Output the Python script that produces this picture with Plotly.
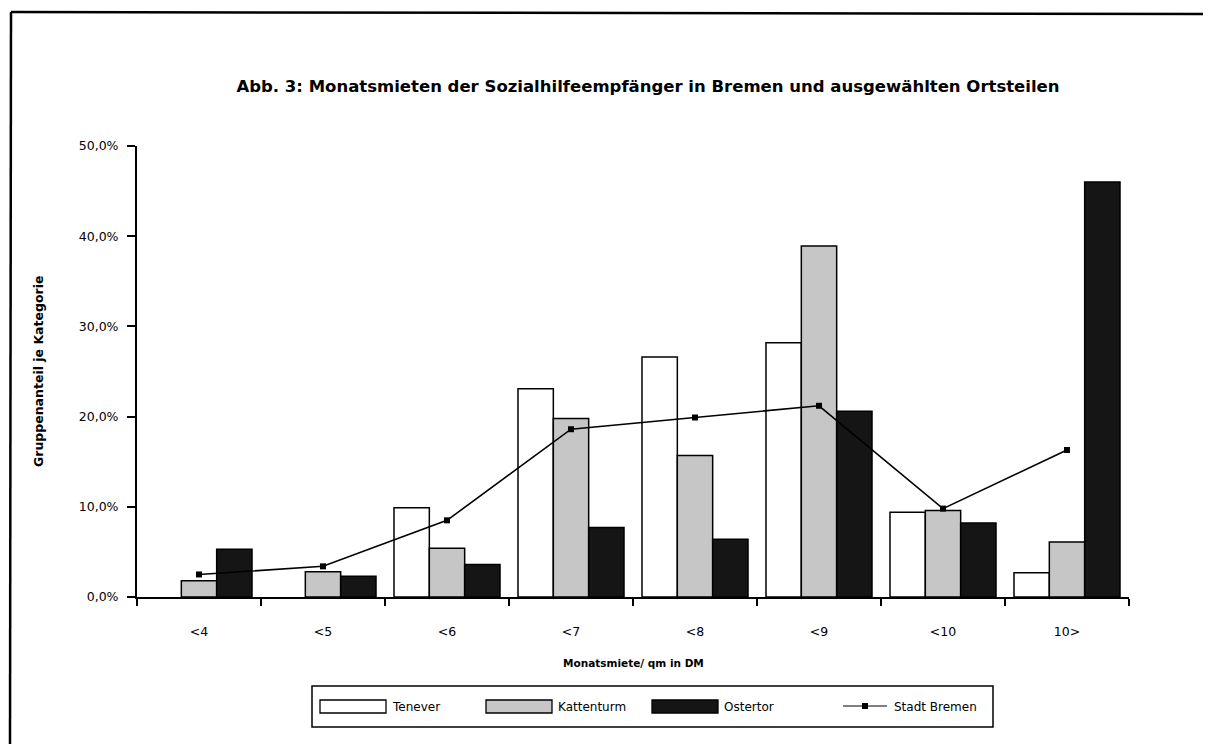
import plotly.graph_objects as go

categories = ["<4", "<5", "<6", "<7", "<8", "<9", "<10", "10>"]
tenever = [None, None, 9.9, 23.1, 26.6, 28.2, 9.4, 2.7]
kattenturm = [1.8, 2.8, 5.4, 19.8, 15.7, 38.9, 9.6, 6.1]
ostertor = [5.3, 2.3, 3.6, 7.7, 6.4, 20.6, 8.2, 46.0]
stadt_bremen = [2.5, 3.4, 8.5, 18.6, 19.9, 21.2, 9.8, 16.3]

series_names = ["Tenever", "Kattenturm", "Ostertor", "Stadt Bremen"]
y_ticks = [0, 10, 20, 30, 40, 50]
y_ticktext = [f"{v:.1f}%".replace(".", ",") for v in y_ticks]

title = "Abb. 3: Monatsmieten der Sozialhilfeempfänger in Bremen und ausgewählten Ortsteilen"
x_title = "Monatsmiete/ qm in DM"
y_title = "Gruppenanteil je Kategorie"

OFF = 8  # page body margin
W, H = 1211 - OFF, 744 - OFF
# plot area in screenshot pixels
L, R, T, B = 137, 1129, 146, 597
FONT = "DejaVu Sans, Verdana, sans-serif"

def px(x):
    return (x - L) / (R - L)

def py(y):
    return (B - y) / (B - T)

fills = ["#ffffff", "#c6c6c6", "#151515"]
fig = go.Figure()
for name, vals, col in zip(series_names[:3], [tenever, kattenturm, ostertor], fills):
    fig.add_trace(go.Bar(
        x=categories, y=vals, name=name,
        marker=dict(color=col, line=dict(color="#000", width=1.5)),
        showlegend=False,
    ))
fig.add_trace(go.Scatter(
    x=categories, y=stadt_bremen, name=series_names[3], mode="lines+markers",
    line=dict(color="#000", width=1.6),
    marker=dict(symbol="square", size=6, color="#000"),
    showlegend=False,
))

shapes = []
annotations = []
# outer frame (left and top lines)
shapes.append(dict(type="line", xref="paper", yref="paper",
                   x0=px(11), y0=py(12), x1=px(1215), y1=py(14),
                   line=dict(color="#000", width=2.5)))
shapes.append(dict(type="line", xref="paper", yref="paper",
                   x0=px(11), y0=py(12), x1=px(10), y1=py(750),
                   line=dict(color="#000", width=2.5)))
# legend box
shapes.append(dict(type="rect", xref="paper", yref="paper",
                   x0=px(312), y0=py(686), x1=px(993), y1=py(727),
                   line=dict(color="#000", width=1.5), fillcolor="rgba(0,0,0,0)"))
sw_x = [320, 486, 652]
for i in range(3):
    shapes.append(dict(type="rect", xref="paper", yref="paper",
                       x0=px(sw_x[i]), y0=py(700), x1=px(sw_x[i] + 66), y1=py(713),
                       line=dict(color="#000", width=1.3), fillcolor=fills[i]))
    annotations.append(dict(text=series_names[i], xref="paper", yref="paper",
                            x=px(sw_x[i] + 70), y=py(707), xanchor="left", yanchor="middle",
                            showarrow=False, font=dict(size=12, family=FONT, color="#000")))
shapes.append(dict(type="line", xref="paper", yref="paper",
                   x0=px(843), y0=py(706), x1=px(887), y1=py(706),
                   line=dict(color="#000", width=1.2)))
shapes.append(dict(type="rect", xref="paper", yref="paper",
                   x0=px(862), y0=py(703), x1=px(868), y1=py(709),
                   line=dict(color="#000", width=0), fillcolor="#000"))
annotations.append(dict(text=series_names[3], xref="paper", yref="paper",
                        x=px(892), y=py(707), xanchor="left", yanchor="middle",
                        showarrow=False, font=dict(size=12, family=FONT, color="#000")))
# axis titles
annotations.append(dict(text="<b>" + x_title + "</b>", xref="paper", yref="paper",
                        x=px(633), y=py(663), xanchor="center", yanchor="middle",
                        showarrow=False, font=dict(size=10.5, family=FONT, color="#000")))
annotations.append(dict(text="<b>" + y_title + "</b>", xref="paper", yref="paper",
                        x=px(38), y=py(372), xanchor="center", yanchor="middle", textangle=-90,
                        showarrow=False, font=dict(size=12.5, family=FONT, color="#000")))

fig.update_layout(
    width=W, height=H,
    margin=dict(l=L - OFF, r=W - (R - OFF), t=T - OFF, b=H - (B - OFF)),
    paper_bgcolor="#fff", plot_bgcolor="#fff",
    barmode="group", bargap=0.145, bargroupgap=0,
    font=dict(family=FONT, color="#000", size=12),
    title=dict(text="<b>" + title + "</b>", x=px(648), xref="paper", xanchor="center",
               y=1 - (86 - OFF) / H, yanchor="middle", font=dict(size=16.5, family=FONT, color="#000")),
    shapes=shapes, annotations=annotations,
    showlegend=False,
)
fig.update_xaxes(
    type="category", showline=True, linecolor="#000", linewidth=2,
    ticks="outside", tickson="boundaries", ticklen=7, tickcolor="#000", tickwidth=1.5,
    showgrid=False, tickfont=dict(size=12.5, family=FONT), ticklabelstandoff=22,
)
fig.update_yaxes(
    range=[0, 50], tickvals=y_ticks, ticktext=y_ticktext,
    showline=True, linecolor="#000", linewidth=2,
    ticks="outside", ticklen=8, tickcolor="#000", tickwidth=1.5,
    showgrid=False, zeroline=False, tickfont=dict(size=12.5, family=FONT),
    ticklabelstandoff=6,
)

fig.write_html("out.html")
